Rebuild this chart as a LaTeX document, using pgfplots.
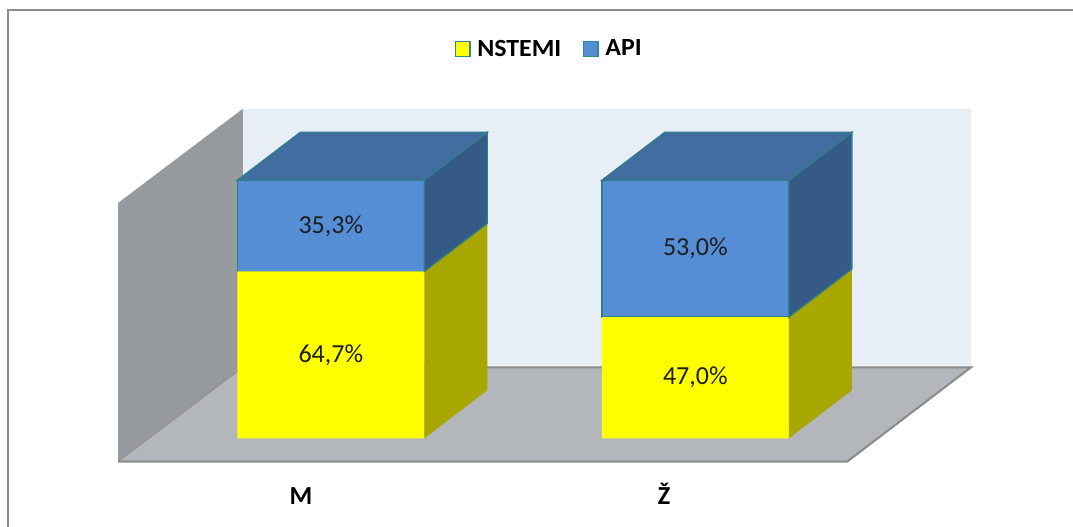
\documentclass[border=0pt]{standalone}
\usepackage{pgfplots}
\pgfplotsset{compat=1.18}
\usepackage{pgfplotstable}
\usepackage{fontspec}
\setmainfont{Carlito}
\newfontfamily\legfont[FakeStretch=1.05]{Carlito}
\definecolor{backwall}{HTML}{E8EEF5}
\definecolor{leftwall}{HTML}{96999D}
\definecolor{floorc}{HTML}{B3B7BB}
\definecolor{edgec}{HTML}{8A8A8A}
\definecolor{yel}{RGB}{255,255,0}
\definecolor{bluefront}{HTML}{558ED5}
\definecolor{bluetop}{HTML}{416DA1}
\definecolor{blueside}{HTML}{355A86}
\definecolor{yellowside}{HTML}{A8A600}
\definecolor{barline}{HTML}{2E7C8C}
\definecolor{legedge}{HTML}{31859C}
\definecolor{labtext}{HTML}{1E1E1E}
\definecolor{bordergray}{HTML}{8C8C8C}
\begin{document}
\begin{tikzpicture}
\pgfplotstableread{
x NSTEMI API
0 64.7 35.3
1 47.0 53.0
}\data
\pgfplotstablegetelem{0}{NSTEMI}\of\data \let\An\pgfplotsretval
\pgfplotstablegetelem{0}{API}\of\data \let\Aa\pgfplotsretval
\pgfplotstablegetelem{1}{NSTEMI}\of\data \let\Bn\pgfplotsretval
\pgfplotstablegetelem{1}{API}\of\data \let\Ba\pgfplotsretval
\pgfmathsetmacro\AT{\An+\Aa}
\pgfmathsetmacro\ANd{\An+18.6}
\pgfmathsetmacro\ATd{\AT+18.6}
\pgfmathsetmacro\BT{\Bn+\Ba}
\pgfmathsetmacro\BNd{\Bn+18.6}
\pgfmathsetmacro\BTd{\BT+18.6}
\pgfplotsset{base/.style={
  x=273.4pt, y=1.935pt,
  xmin=-1, xmax=2.2, ymin=-25.5, ymax=140,
  at={(-25.3pt,17.18pt)}, anchor=south west,
  clip=false, enlargelimits=false,
  axis line style={draw=none}, tick style={draw=none},
  major tick length=0pt,
  xtick=\empty, ytick=\empty}}
% ---- walls and floor
\begin{axis}[base]
\addplot[fill=backwall, draw=none] coordinates {(-0.2409,27.52) (1.7564,27.52) (1.7564,127.75) (-0.2409,127.75)} -- cycle;
\addplot[fill=leftwall, draw=none] coordinates {(-0.5837,-9.07) (-0.5837,91.2) (-0.2409,127.75) (-0.2409,27.52)} -- cycle;
\addplot[fill=floorc, draw=none] coordinates {(-0.5837,-9.07) (-0.2409,27.52) (1.7564,27.52) (1.4162,-9.07)} -- cycle;
\addplot[draw=edgec, line width=1.5pt] coordinates {(-0.2409,27.52) (1.7564,27.52) (1.4162,-9.07) (-0.5837,-9.07)};
\addplot[draw=edgec, line width=0.5pt] coordinates {(-0.5837,-9.07) (-0.2409,27.52)};
\end{axis}
% ---- front faces (stacked bars)
\begin{axis}[base, ybar stacked, bar width=0.513,
  xtick={-0.082,0.914}, xticklabels={M,Ž},
  xticklabel style={anchor=base, font=\bfseries\fontsize{19.5}{22}\selectfont, text=black},
  legend style={draw=none, fill=none, legend columns=-1,
    at={(axis cs:0.6,150.9)}, anchor=center,
    font=\legfont\bfseries\fontsize{18.5}{21}\selectfont,
    /tikz/every odd column/.append style={column sep=3pt},
    /tikz/every even column/.append style={column sep=14pt}},
  legend cell align=left]
\addplot[fill=yel, draw=none,
  legend image code/.code={\filldraw[fill=yel, draw=legedge, line width=1pt] (0pt,-5.5pt) rectangle (11pt,5.5pt);}]
  table[x=x, y=NSTEMI]{\data};
\addplot[fill=bluefront, draw=barline, line width=1pt,
  legend image code/.code={\filldraw[fill=bluefront, draw=legedge, line width=1pt] (0pt,-5.5pt) rectangle (11pt,5.5pt);}]
  table[x=x, y=API]{\data};
\legend{NSTEMI, API}
\end{axis}
% ---- side and top faces, data labels
\begin{axis}[base]
\addplot[fill=yellowside, draw=none] coordinates {(0.2565,0) (0.4293,18.6) (0.4293,\ANd) (0.2565,\An)} -- cycle;
\addplot[fill=blueside, draw=barline, line width=1pt] coordinates {(0.2565,\An) (0.4293,\ANd) (0.4293,\ATd) (0.2565,\AT)} -- cycle;
\addplot[fill=bluetop, draw=barline, line width=1pt] coordinates {(-0.2565,\AT) (0.2565,\AT) (0.4293,\ATd) (-0.0837,\ATd)} -- cycle;
\addplot[fill=yellowside, draw=none] coordinates {(1.2565,0) (1.4293,18.6) (1.4293,\BNd) (1.2565,\Bn)} -- cycle;
\addplot[fill=blueside, draw=barline, line width=1pt] coordinates {(1.2565,\Bn) (1.4293,\BNd) (1.4293,\BTd) (1.2565,\BT)} -- cycle;
\addplot[fill=bluetop, draw=barline, line width=1pt] coordinates {(0.7435,\BT) (1.2565,\BT) (1.4293,\BTd) (0.9163,\BTd)} -- cycle;
\addplot[draw=none, mark=none, point meta=\thisrow{NSTEMI},
  nodes near coords={\pgfmathprintnumber[fixed,fixed zerofill,precision=1,use comma,assume math mode=true]{\pgfplotspointmeta}\%},
  every node near coord/.append style={anchor=center, text=labtext, font=\fontsize{19.5}{22}\selectfont}]
  table[x=x, y expr=\thisrow{NSTEMI}/2]{\data};
\addplot[draw=none, mark=none, point meta=\thisrow{API},
  nodes near coords={\pgfmathprintnumber[fixed,fixed zerofill,precision=1,use comma,assume math mode=true]{\pgfplotspointmeta}\%},
  every node near coord/.append style={anchor=center, text=labtext, font=\fontsize{19.5}{22}\selectfont}]
  table[x=x, y expr=\thisrow{NSTEMI}+\thisrow{API}/2]{\data};
\end{axis}
\draw[bordergray, line width=1.5pt] (6pt,-5pt) -- (6pt,388.1pt) -- (812pt,388.1pt);
\pgfresetboundingbox
\useasboundingbox (0,0) rectangle (804.75pt,395.25pt);
\end{tikzpicture}
\end{document}
